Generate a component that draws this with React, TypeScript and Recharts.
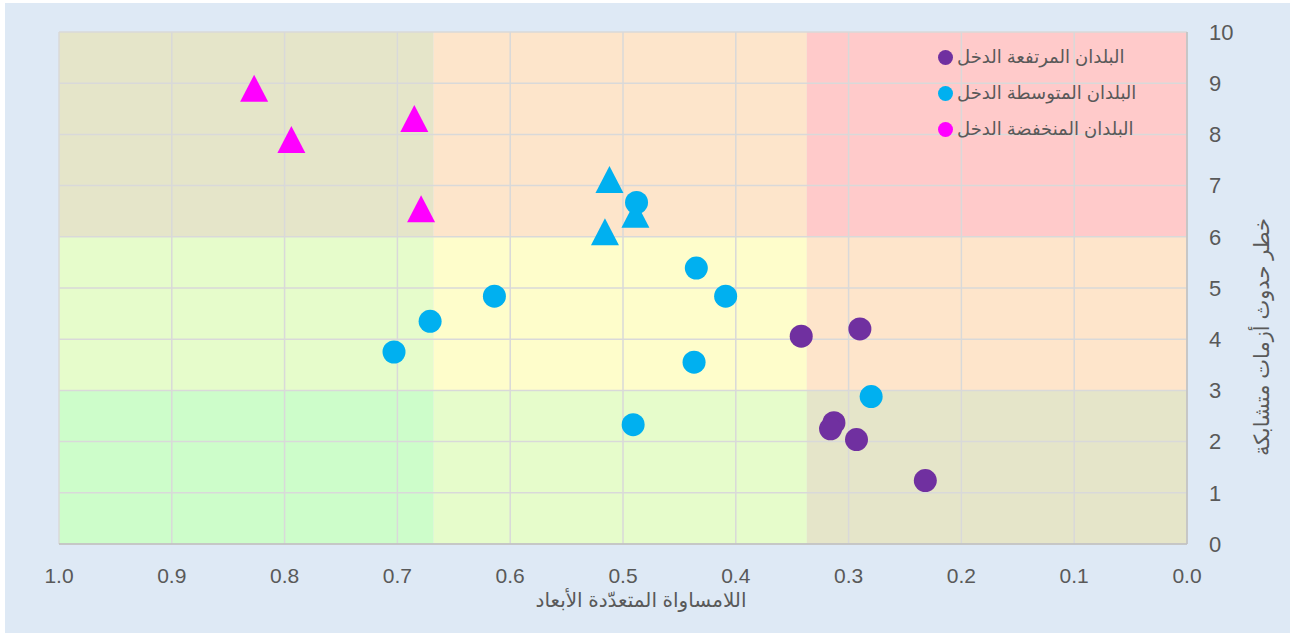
import {
    ScatterChart,
    Scatter,
    XAxis,
    YAxis,
    CartesianGrid,
    ReferenceArea,
    Legend,
    Label
} from 'recharts';

// axis ticks
const xTicks = [0, 0.1, 0.2, 0.3, 0.4, 0.5, 0.6, 0.7, 0.8, 0.9, 1.0];
const yTicks = [0, 1, 2, 3, 4, 5, 6, 7, 8, 9, 10];

// series
const highIncome = [
    {x: 0.342, y: 4.06},
    {x: 0.290, y: 4.20},
    {x: 0.313, y: 2.37},
    {x: 0.316, y: 2.25},
    {x: 0.293, y: 2.04},
    {x: 0.232, y: 1.24}
];
const middleIncome = [
    {x: 0.488, y: 6.67},
    {x: 0.435, y: 5.39},
    {x: 0.409, y: 4.84},
    {x: 0.614, y: 4.84},
    {x: 0.671, y: 4.35},
    {x: 0.703, y: 3.75},
    {x: 0.437, y: 3.55},
    {x: 0.491, y: 2.33},
    {x: 0.280, y: 2.88}
];
const middleIncomeTri = [
    {x: 0.512, y: 7.12},
    {x: 0.516, y: 6.10},
    {x: 0.489, y: 6.44}
];
const lowIncomeTri = [
    {x: 0.827, y: 8.90},
    {x: 0.794, y: 7.90},
    {x: 0.685, y: 8.31},
    {x: 0.679, y: 6.55}
];

const legendItems = [
    {name: 'البلدان المرتفعة الدخل', color: '#7030a0'},
    {name: 'البلدان المتوسطة الدخل', color: '#00b0f0'},
    {name: 'البلدان المنخفضة الدخل', color: '#ff00ff'}
];

// background risk zones (x bands from left to right, y bands from top to bottom)
const zoneX = [[1, 0.668], [0.668, 0.337], [0.337, 0]];
const zoneY = [[6, 10], [3, 6], [0, 3]];
const zoneFills = [
    ['#e5e5c9', '#fde5cb', '#ffcaca'],
    ['#e6fccb', '#fefdcb', '#fee5cb'],
    ['#cdfdca', '#e6fccb', '#e5e5c9']
];

const FONT = '"Liberation Sans", Arial, "DejaVu Sans", sans-serif';
const TEXT = '#595959';

const Dot = (props: any) => (
    <circle cx={props.cx} cy={props.cy} r={11.5} fill={props.fill}/>
);

const Tri = (props: any) => {
    const {cx, cy, fill} = props;
    const w = 28, h = 27;
    return (
        <polygon
            points={`${cx},${cy - h / 2} ${cx + w / 2},${cy + h / 2} ${cx - w / 2},${cy + h / 2}`}
            fill={fill}
        />
    );
};

const LegendBox = () => (
    <div style={{fontFamily: FONT, fontSize: 18, color: TEXT}}>
        {legendItems.map(item => (
            <div key={item.name} style={{display: 'flex', alignItems: 'center', height: 36}}>
                <span style={{
                    width: 15, height: 15, borderRadius: '50%', background: item.color,
                    display: 'inline-block', marginRight: 4
                }}/>
                <span>{item.name}</span>
            </div>
        ))}
    </div>
);

const YTitle = ({viewBox}: any) => {
    const x = viewBox.x + 74;
    const y = viewBox.y + viewBox.height / 2 + 49;
    return (
        <text
            x={x}
            y={y}
            transform={`rotate(-90 ${x} ${y})`}
            textAnchor="middle"
            dominantBaseline="central"
            fill={TEXT}
            fontSize={21}
            fontFamily={FONT}
        >
            خطر حدوث أزمات متشابكة
        </text>
    );
};

export default function App() {
    return (
        <div style={{position: 'absolute', left: 0, top: 0, width: 1293, height: 635, background: '#ffffff'}}>
            <div style={{position: 'absolute', left: 5, top: 3, width: 1285, height: 630, background: '#dee9f5'}}/>
            <div style={{position: 'absolute', left: 0, top: 0}}>
                <ScatterChart width={1293} height={635} margin={{top: 32, right: 8, bottom: 16, left: 59}}>
                    {zoneY.map((yb, r) => zoneX.map((xb, c) => (
                        <ReferenceArea
                            key={`z${r}${c}`}
                            x1={xb[0]}
                            x2={xb[1]}
                            y1={yb[0]}
                            y2={yb[1]}
                            fill={zoneFills[r][c]}
                            fillOpacity={1}
                            stroke="none"
                            ifOverflow="hidden"
                            zIndex={-200}
                        />
                    )))}

                    <CartesianGrid stroke="#d9d9d9" strokeWidth={1.5}/>

                    <XAxis
                        type="number"
                        dataKey="x"
                        domain={[0, 1]}
                        reversed
                        ticks={xTicks}
                        interval={0}
                        tickFormatter={(v) => v.toFixed(1)}
                        axisLine={{stroke: '#bfbfbf', strokeWidth: 1.5}}
                        tickLine={false}
                        tickMargin={18}
                        height={75}
                        tick={{fill: TEXT, fontSize: 21, fontFamily: FONT}}
                    >
                        <Label
                            value="اللامساواة المتعدّدة الأبعاد"
                            position="insideBottom"
                            offset={12}
                            dx={18}
                            fill={TEXT}
                            fontSize={20}
                            fontFamily={FONT}
                        />
                    </XAxis>

                    <YAxis
                        type="number"
                        dataKey="y"
                        orientation="right"
                        domain={[0, 10]}
                        ticks={yTicks}
                        interval={0}
                        axisLine={{stroke: '#bfbfbf', strokeWidth: 1.5}}
                        tickLine={false}
                        tickMargin={16}
                        width={98}
                        tick={{fill: TEXT, fontSize: 22, fontFamily: FONT, textAnchor: 'start'}}
                    >
                        <Label content={<YTitle/>}/>
                    </YAxis>

                    <Legend
                        layout="vertical"
                        align="center"
                        verticalAlign="middle"
                        content={<LegendBox/>}
                        wrapperStyle={{top: 39, left: 938, width: 240}}
                    />

                    <Scatter name="lowTri" data={lowIncomeTri} fill="#ff00ff" shape={<Tri/>} isAnimationActive={false}/>
                    <Scatter name="midTri" data={middleIncomeTri} fill="#00b0f0" shape={<Tri/>} isAnimationActive={false}/>
                    <Scatter name="mid" data={middleIncome} fill="#00b0f0" shape={<Dot/>} isAnimationActive={false}/>
                    <Scatter name="high" data={highIncome} fill="#7030a0" shape={<Dot/>} isAnimationActive={false}/>
                </ScatterChart>
            </div>
        </div>
    );
}
